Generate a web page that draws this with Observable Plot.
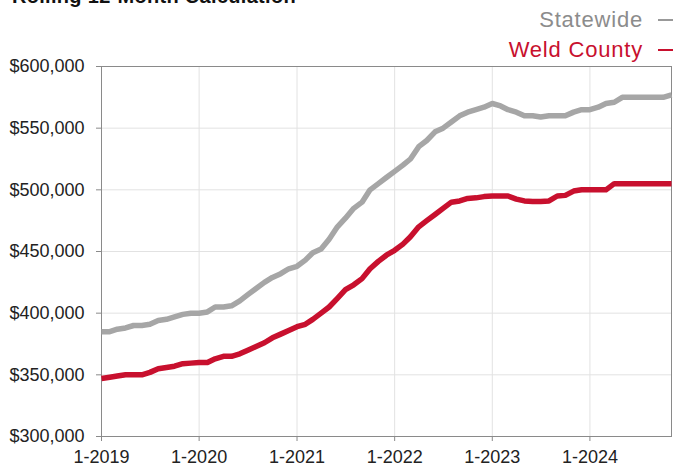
<!DOCTYPE html>
<html>
<head>
<meta charset="utf-8">
<script src="https://cdn.jsdelivr.net/npm/d3@7"></script>
<script src="https://cdn.jsdelivr.net/npm/@observablehq/plot@0.6"></script>
<style>
  html, body { margin: 0; padding: 0; background: #fff; }
  #wrap { position: relative; width: 673px; height: 468px; overflow: hidden; font-family: "Liberation Sans", Arial, Helvetica, sans-serif; }
  #title { position: absolute; left: 12px; top: -15px; font-size: 20px; font-weight: bold; color: #111; white-space: nowrap; letter-spacing: 0.3px; }
  .leg { position: absolute; right: 30px; font-size: 22px; letter-spacing: 0.8px; white-space: nowrap; line-height: 1; }
  .dash { position: absolute; left: 658px; width: 30px; height: 2px; }
  #chart { position: absolute; left: 0; top: 0; }
</style>
</head>
<body>
<div id="wrap">
  <div id="chart"></div>
  <div id="title">Rolling 12-Month Calculation</div>
  <div class="leg" style="top:9px;color:#8c8c8c">Statewide</div>
  <div class="dash" style="top:19px;background:#999"></div>
  <div class="leg" style="top:39px;color:#c8102e">Weld County</div>
  <div class="dash" style="top:49px;background:#c8102e"></div>
</div>
<script>
// Months: Jan 2019 .. Nov 2024
const startYear = 2019, startMonth = 0, monthCount = 71;
const seriesNames = ["Statewide", "Weld County"];
const seriesColors = ["#a6a6a6", "#c8102e"];
const statewide = [
  385000, 385000, 387000, 388000, 390000, 390000, 391000, 394000, 395000, 397000, 399000, 400000,
  400000, 401000, 405000, 405000, 406000, 410000, 415000, 420000, 425000, 429000, 432000, 436000,
  438000, 443000, 449000, 452000, 460000, 470000, 477000, 485000, 490000, 500000, 505000, 510000,
  515000, 520000, 525000, 535000, 540000, 547000, 550000, 555000, 560000, 563000, 565000, 567000,
  570000, 568000, 565000, 563000, 560000, 560000, 559000, 560000, 560000, 560000, 563000, 565000,
  565000, 567000, 570000, 571000, 575000, 575000, 575000, 575000, 575000, 575000, 577000
];
const weldCounty = [
  347000, 348000, 349000, 350000, 350000, 350000, 352000, 355000, 356000, 357000, 359000, 359500,
  360000, 360000, 363000, 365000, 365000, 367000, 370000, 373000, 376000, 380000, 383000, 386000,
  389000, 391000, 395000, 400000, 405000, 412000, 419000, 423000, 428000, 436000, 442000, 447000,
  451000, 456000, 462000, 470000, 475000, 480000, 485000, 490000, 491000, 493000, 493500, 494500,
  495000, 495000, 495000, 492500, 491000, 490500, 490500, 491000, 495000, 495500, 499000, 500000,
  500000, 500000, 500000, 505000, 505000, 505000, 505000, 505000, 505000, 505000, 505000
];
const yTicks = [300000, 350000, 400000, 450000, 500000, 550000, 600000];
const xTickYears = [2019, 2020, 2021, 2022, 2023, 2024];

const dates = d3.range(monthCount).map(i => new Date(Date.UTC(startYear, startMonth + i, 1)));
const rows = [];
[statewide, weldCounty].forEach((arr, s) => {
  arr.forEach((v, i) => rows.push({date: dates[i], value: v, series: seriesNames[s]}));
});
const xTicks = xTickYears.map(y => new Date(Date.UTC(y, 0, 1)));

const plot = Plot.plot({
  width: 673,
  height: 468,
  marginLeft: 101,
  marginRight: 2,
  marginTop: 66,
  marginBottom: 32,
  style: {fontFamily: '"Liberation Sans", Arial, Helvetica, sans-serif', fontSize: "18px", background: "#fff", color: "#222"},
  x: {type: "utc", domain: [dates[0], dates[dates.length - 1]]},
  y: {domain: [300000, 600000]},
  color: {domain: seriesNames, range: seriesColors},
  marks: [
    Plot.gridY(yTicks, {stroke: "#e2e2e2", strokeOpacity: 1}),
    Plot.gridX(xTicks, {stroke: "#e2e2e2", strokeOpacity: 1}),
    Plot.frame({stroke: "#8a8a8a"}),
    Plot.axisY(yTicks, {tickSize: 5, tickPadding: 12, stroke: "#8a8a8a", fill: "#222", label: null,
      tickFormat: d => "$" + d3.format(",")(d)}),
    Plot.axisX(xTicks, {tickSize: 5, tickPadding: 9, stroke: "#8a8a8a", fill: "#222", label: null,
      tickFormat: d => (d.getUTCMonth() + 1) + "-" + d.getUTCFullYear()}),
    Plot.line(rows, {x: "date", y: "value", z: "series", stroke: "series", strokeWidth: 5.5,
      strokeLinejoin: "round", strokeLinecap: "butt"})
  ]
});
document.getElementById("chart").appendChild(plot);
</script>
</body>
</html>
